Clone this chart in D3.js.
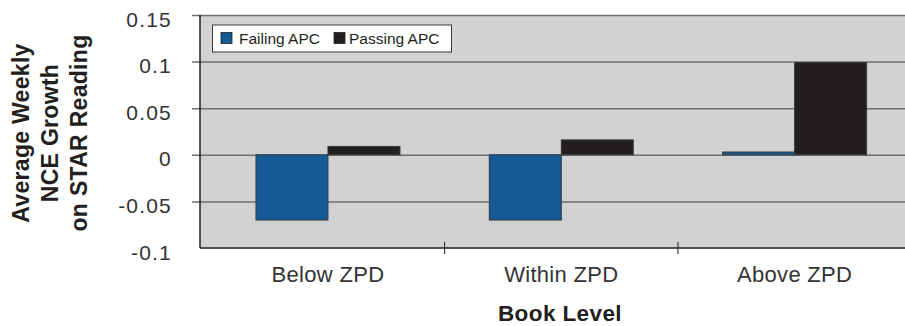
<!DOCTYPE html>
<html>
<head>
<meta charset="utf-8">
<script src="https://cdn.jsdelivr.net/npm/d3@7"></script>
<style>
  html, body { margin: 0; padding: 0; background: #fff; }
  svg { display: block; font-family: "Liberation Sans", Arial, Helvetica, sans-serif; }
</style>
</head>
<body>
<svg id="chart" width="905" height="326"></svg>
<script>
// Book level categories and weekly NCE growth for each APC group
const categories = ["Below ZPD", "Within ZPD", "Above ZPD"];
const seriesNames = ["Failing APC", "Passing APC"];
const failingAPC = [-0.07, -0.07, 0.003];
const passingAPC = [0.009, 0.016, 0.099];
const yTicks = [-0.1, -0.05, 0, 0.05, 0.1, 0.15];
const yTickLabels = ["-0.1", "-0.05", "0", "0.05", "0.1", "0.15"];
const seriesColors = ["#135a96", "#231f20"];

const svg = d3.select("#chart");

const plot = { left: 200, right: 905, top: 15, bottom: 248 };

const y = d3.scaleLinear().domain([-0.1, 0.15]).range([plot.bottom, plot.top]);
const x0 = d3.scaleBand().domain(categories).range([211.3, 911.3]).padding(0);
const groupWidth = x0.bandwidth() * 0.617;
const x1 = d3.scaleBand().domain(seriesNames).range([0, groupWidth]).padding(0);

// Plot background
svg.append("rect")
  .attr("x", plot.left).attr("y", plot.top)
  .attr("width", plot.right - plot.left).attr("height", plot.bottom - plot.top)
  .attr("fill", "#d1d2d4");

// Horizontal gridlines, extended past the left axis as outward ticks
const gridValues = yTicks.filter(v => v > -0.1);
const gy = svg.append("g")
  .attr("transform", `translate(${plot.right},0)`)
  .call(d3.axisRight(y).tickValues(gridValues).tickSize(-(plot.right - plot.left) - 8).tickFormat(""));
gy.select(".domain").remove();
gy.selectAll(".tick line").attr("stroke", "#6d6e70").attr("stroke-width", 1.5);

// Y tick labels
svg.append("g").selectAll("text")
  .data(yTicks)
  .join("text")
  .attr("x", 172)
  .attr("y", d => y(d) + 4)
  .attr("text-anchor", "end")
  .attr("dominant-baseline", "central")
  .attr("font-size", 21)
  .attr("letter-spacing", 1.2)
  .attr("fill", "#333")
  .text((d, i) => yTickLabels[i]);

// Bars
const rows = categories.map((c, i) => ({
  category: c,
  values: [failingAPC[i], passingAPC[i]]
}));

const groups = svg.append("g").selectAll("g")
  .data(rows)
  .join("g")
  .attr("transform", d => `translate(${x0(d.category) + (x0.bandwidth() - groupWidth) / 2},0)`);

groups.selectAll("rect")
  .data(d => d.values.map((v, j) => ({ name: seriesNames[j], value: v, j })))
  .join("rect")
  .attr("x", d => x1(d.name))
  .attr("width", x1.bandwidth())
  .attr("y", d => y(Math.max(0, d.value)))
  .attr("height", d => Math.abs(y(d.value) - y(0)))
  .attr("fill", d => seriesColors[d.j])
  .attr("stroke", "#3a3a3c")
  .attr("stroke-width", 1);

// Left axis line
svg.append("line")
  .attr("x1", plot.left).attr("x2", plot.left)
  .attr("y1", plot.top).attr("y2", plot.bottom)
  .attr("stroke", "#231f20").attr("stroke-width", 1.5);

// Bottom axis with category separators
const bottom = svg.append("g");
bottom.append("line")
  .attr("x1", plot.left).attr("x2", plot.right)
  .attr("y1", plot.bottom).attr("y2", plot.bottom)
  .attr("stroke", "#231f20").attr("stroke-width", 1.5);
bottom.selectAll("line.sep")
  .data(categories.slice(1))
  .join("line")
  .attr("class", "sep")
  .attr("x1", d => x0(d)).attr("x2", d => x0(d))
  .attr("y1", plot.bottom - 6).attr("y2", plot.bottom + 6)
  .attr("stroke", "#231f20").attr("stroke-width", 1);

bottom.selectAll("text")
  .data(categories)
  .join("text")
  .attr("x", d => x0(d) + x0.bandwidth() / 2)
  .attr("y", 282)
  .attr("text-anchor", "middle")
  .attr("font-size", 22)
  .attr("letter-spacing", 0.3)
  .attr("fill", "#333")
  .text(d => d);

// Axis titles
svg.append("text")
  .attr("x", 560).attr("y", 321)
  .attr("text-anchor", "middle")
  .attr("font-size", 22.5)
  .attr("font-weight", "bold")
  .attr("letter-spacing", 0.4)
  .attr("fill", "#231f20")
  .text("Book Level");

const yTitle = ["Average Weekly", "NCE Growth", "on STAR Reading"];
svg.append("g")
  .attr("transform", "translate(0,133) rotate(-90)")
  .selectAll("text")
  .data(yTitle)
  .join("text")
  .attr("x", 0)
  .attr("y", (d, i) => 29 + i * 29)
  .attr("text-anchor", "middle")
  .attr("font-size", 23)
  .attr("font-weight", "bold")
  .attr("letter-spacing", 0.3)
  .attr("fill", "#231f20")
  .text(d => d);

// Legend
const legend = svg.append("g");
legend.append("rect")
  .attr("x", 212.5).attr("y", 25)
  .attr("width", 239).attr("height", 27)
  .attr("fill", "#fff").attr("stroke", "#3a3a3c").attr("stroke-width", 1);
const legendItems = [
  { name: seriesNames[0], sx: 221, tx: 239 },
  { name: seriesNames[1], sx: 334, tx: 349 }
];
legend.selectAll("rect.sw")
  .data(legendItems)
  .join("rect")
  .attr("class", "sw")
  .attr("x", d => d.sx).attr("y", 32.5)
  .attr("width", 11).attr("height", 11)
  .attr("fill", (d, i) => seriesColors[i])
  .attr("stroke", "#231f20").attr("stroke-width", 0.8);
legend.selectAll("text")
  .data(legendItems)
  .join("text")
  .attr("x", d => d.tx).attr("y", 43.5)
  .attr("font-size", 15.5)
  .attr("fill", "#231f20")
  .text(d => d.name);
</script>
</body>
</html>
